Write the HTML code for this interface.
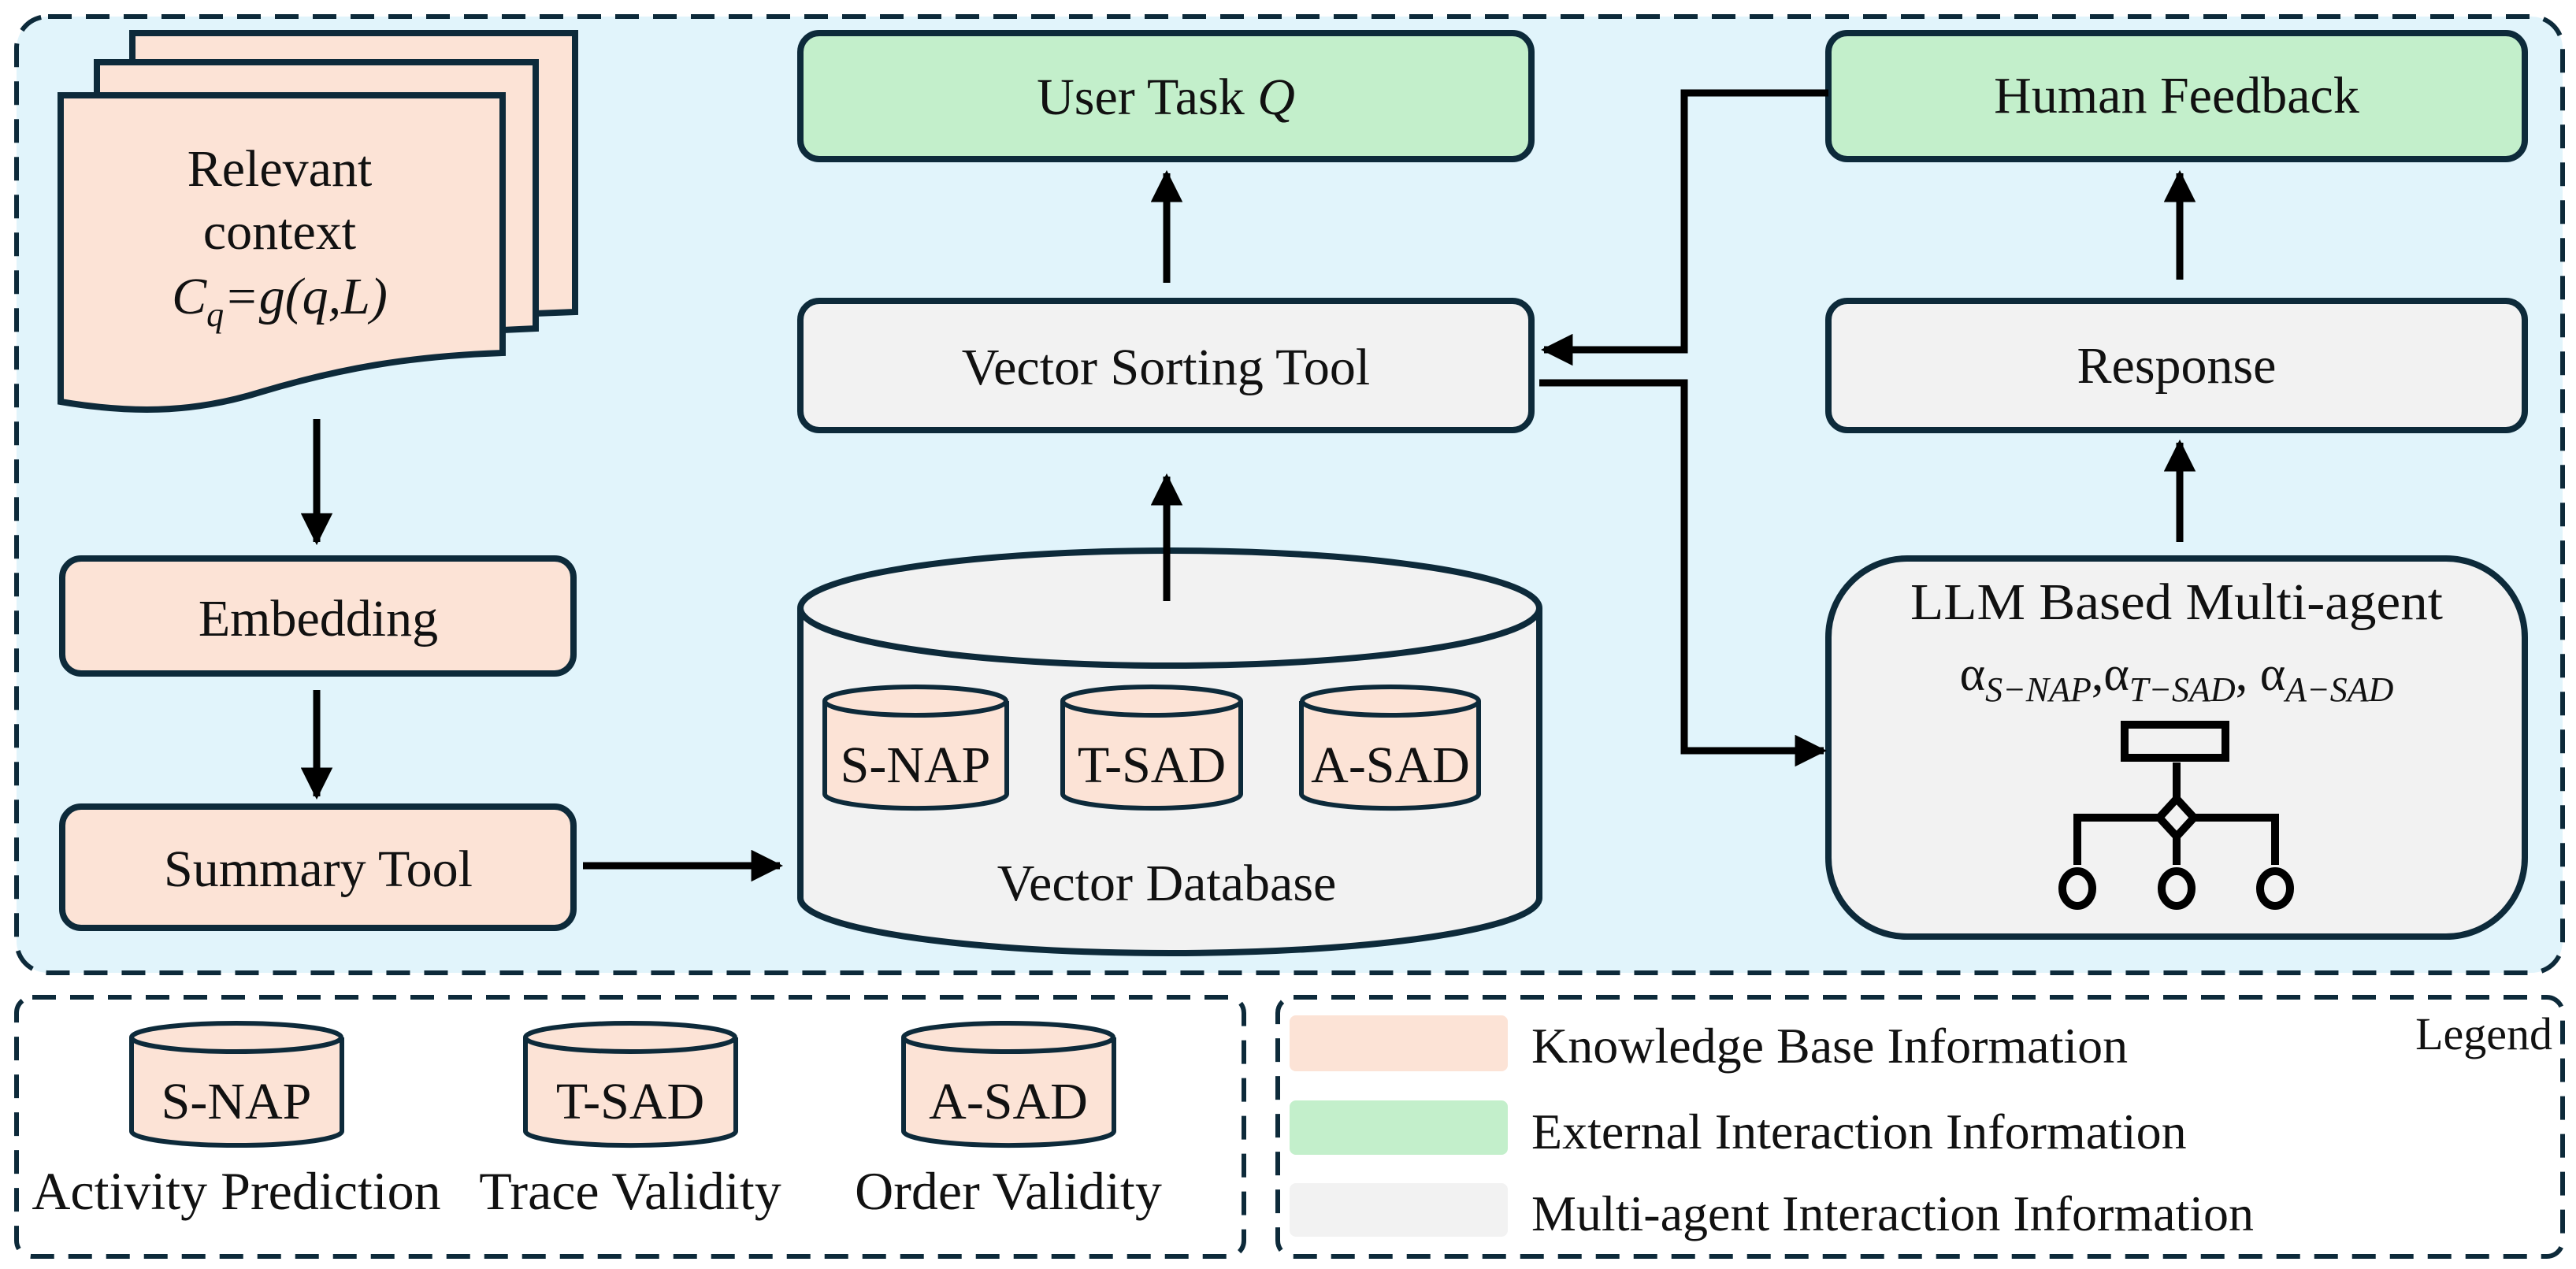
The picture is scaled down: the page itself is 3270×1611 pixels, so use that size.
<!DOCTYPE html>
<html><head><meta charset="utf-8"><style>
html,body{margin:0;padding:0;background:#fff}
svg{display:block}
text{font-family:"Liberation Serif",serif;fill:#111}
</style></head><body>
<svg width="3270" height="1611" viewBox="0 0 3270 1611" xmlns="http://www.w3.org/2000/svg">
<defs>
<marker id="ah" viewBox="0 0 10 10" refX="9" refY="5" markerWidth="4.5" markerHeight="4.5" orient="auto" markerUnits="strokeWidth"><path d="M0,0 L10,5 L0,10 Z" fill="#000"/></marker>
</defs>
<rect x="21" y="21" width="3232" height="1214" rx="40" fill="#e1f4fb" stroke="#0d2a3a" stroke-width="6" stroke-dasharray="30,18"/>
<rect x="21" y="1266" width="1558" height="329" rx="20" fill="#fff" stroke="#0d2a3a" stroke-width="6" stroke-dasharray="30,18"/>
<rect x="1622" y="1266" width="1631" height="329" rx="20" fill="#fff" stroke="#0d2a3a" stroke-width="6" stroke-dasharray="30,18"/>

<g stroke="#0d2a3a" stroke-width="8" stroke-linejoin="miter">
<path d="M168,79 V42 H730 V396 L680,398 V79 Z" fill="#fce3d6"/>
<path d="M123,121 V79 H680 V417 L638,419 V121 Z" fill="#fce3d6"/>
<path d="M77,121 H638 V448 C520,452 430,468 330,498 C240,526 160,524 77,510 Z" fill="#fce3d6"/>
<rect x="79" y="709" width="649" height="146" rx="24" fill="#fce3d6"/>
<rect x="79" y="1024" width="649" height="154" rx="24" fill="#fce3d6"/>
<rect x="1016" y="42" width="928" height="160" rx="24" fill="#c3efcb"/>
<rect x="1016" y="382" width="928" height="164" rx="24" fill="#f2f2f2"/>
<path d="M1016,772 V1140 A469,70 0 0 0 1954,1140 V772" fill="#f2f2f2"/>
<ellipse cx="1485" cy="772" rx="469" ry="73" fill="#f2f2f2"/>
<rect x="2321" y="42" width="884" height="160" rx="24" fill="#c3efcb"/>
<rect x="2321" y="382" width="884" height="164" rx="24" fill="#f2f2f2"/>
<rect x="2321" y="709" width="884" height="480" rx="100" fill="#f2f2f2"/>
</g>

<g stroke="#0d2a3a" stroke-width="6" fill="#fce3d6">
<path d="M1047,890 V1008 A115,18 0 0 0 1278,1008 V890"/><ellipse cx="1162" cy="890" rx="115" ry="18"/>
<path d="M1349,890 V1008 A113,18 0 0 0 1575,1008 V890"/><ellipse cx="1462" cy="890" rx="113" ry="18"/>
<path d="M1652,890 V1008 A112,18 0 0 0 1877,1008 V890"/><ellipse cx="1765" cy="890" rx="112" ry="18"/>
<path d="M167,1317 V1436 A133,18 0 0 0 434,1436 V1317"/><ellipse cx="300" cy="1317" rx="133" ry="18"/>
<path d="M667,1317 V1436 A133,18 0 0 0 934,1436 V1317"/><ellipse cx="800" cy="1317" rx="133" ry="18"/>
<path d="M1147,1317 V1436 A133,18 0 0 0 1414,1436 V1317"/><ellipse cx="1280" cy="1317" rx="133" ry="18"/>
</g>

<g stroke="#000" stroke-width="9" fill="none" marker-end="url(#ah)">
<line x1="402" y1="532" x2="402" y2="688"/>
<line x1="402" y1="876" x2="402" y2="1011"/>
<line x1="740" y1="1099" x2="990" y2="1099"/>
<line x1="1481" y1="763" x2="1481" y2="605"/>
<line x1="1481" y1="359" x2="1481" y2="220"/>
<line x1="2767" y1="355" x2="2767" y2="220"/>
<line x1="2767" y1="688" x2="2767" y2="562"/>
<polyline points="2321,118 2138,118 2138,444 1960,444"/>
<polyline points="1954,486 2138,486 2138,953 2315,953"/>
</g>

<g stroke="#000" stroke-width="10" fill="none">
<rect x="2697" y="920" width="128" height="42"/>
<line x1="2763" y1="968" x2="2763" y2="1016"/>
<line x1="2763" y1="1060" x2="2763" y2="1098"/>
<polyline points="2637,1098 2637,1038 2888,1038 2888,1098"/>
<path d="M2763,1014 L2785,1038 L2763,1062 L2741,1038 Z" fill="#f2f2f2"/>
<ellipse cx="2637" cy="1128" rx="19" ry="22"/>
<ellipse cx="2763" cy="1128" rx="19" ry="22"/>
<ellipse cx="2888" cy="1128" rx="19" ry="22"/>
</g>

<g font-size="66" text-anchor="middle">
<text x="355" y="236">Relevant</text>
<text x="355" y="316">context</text>
<text x="355" y="398" font-style="italic">C<tspan font-size="44" dy="16">q</tspan><tspan dy="-16">=g(q,L)</tspan></text>
<text x="404" y="807">Embedding</text>
<text x="404" y="1125">Summary Tool</text>
<text x="1480" y="145">User Task <tspan font-style="italic">Q</tspan></text>
<text x="1480" y="488">Vector Sorting Tool</text>
<text x="1162" y="993">S-NAP</text>
<text x="1462" y="993">T-SAD</text>
<text x="1765" y="993">A-SAD</text>
<text x="1481" y="1143">Vector Database</text>
<text x="2763" y="143">Human Feedback</text>
<text x="2763" y="486">Response</text>
<text x="2763" y="786" textLength="676" lengthAdjust="spacingAndGlyphs">LLM Based Multi-agent</text>
<text x="2763" y="876" font-size="62">α<tspan font-size="44" font-style="italic" dy="14">S−NAP</tspan><tspan dy="-14">,α</tspan><tspan font-size="44" font-style="italic" dy="14">T−SAD</tspan><tspan dy="-14">, α</tspan><tspan font-size="44" font-style="italic" dy="14">A−SAD</tspan></text>
<text x="300" y="1420">S-NAP</text>
<text x="800" y="1420">T-SAD</text>
<text x="1280" y="1420">A-SAD</text>
<text x="300" y="1535" font-size="68">Activity Prediction</text>
<text x="800" y="1535" font-size="68">Trace Validity</text>
<text x="1280" y="1535" font-size="68">Order Validity</text>
</g>

<rect x="1637" y="1289" width="277" height="71" rx="8" fill="#fce3d6"/>
<rect x="1637" y="1397" width="277" height="69" rx="8" fill="#c3efcb"/>
<rect x="1637" y="1502" width="277" height="68" rx="8" fill="#f2f2f2"/>
<g font-size="64">
<text x="1944" y="1349">Knowledge Base Information</text>
<text x="1944" y="1458">External Interaction Information</text>
<text x="1944" y="1562">Multi-agent Interaction Information</text>
<text x="3240" y="1332" text-anchor="end" font-size="58">Legend</text>
</g>
</svg>
</body></html>
